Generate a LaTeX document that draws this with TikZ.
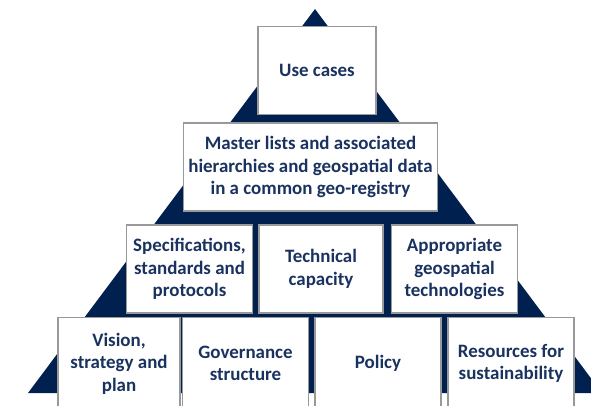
\documentclass[tikz,border=0pt]{standalone}
\usepackage{fontspec}
\setmainfont{Carlito}
\definecolor{pyrnavy}{RGB}{0,32,80}
\definecolor{txtnavy}{RGB}{25,50,95}
\tikzset{
  block/.style={draw=gray!80,line width=0.8pt,fill=white,align=center,
    inner sep=0pt,minimum height=66pt,text=txtnavy,
    font=\fontsize{14.2}{16.8}\selectfont\bfseries},
}
\begin{document}
\begin{tikzpicture}[x=0.75pt,y=-0.75pt]
\clip (0,0) rectangle (591,405);
\fill[white] (0,0) rectangle (591,405);
% pyramid behind the blocks
\fill[pyrnavy] (315,9) -- (602,393) -- (28,393) -- cycle;
% top
\node[block,minimum width=88.5pt] (usecases) at (317,70.5) {Use cases};
\node[block,minimum width=191pt] (master) at (310.5,167)
  {Master lists and associated\\hierarchies and geospatial data\\in a common geo-registry};
% third row
\node[block,minimum width=94pt] (specs) at (189.5,269) {Specifications,\\standards and\\protocols};
\node[block,minimum width=93pt] (techcap) at (321,269) {Technical\\capacity};
\node[block,minimum width=94pt] (geotech) at (454.5,269) {Appropriate\\geospatial\\technologies};
% base row, runs off the bottom edge
\tikzset{block/.append style={minimum height=69pt}}
\node[block,minimum width=91.5pt] (vision) at (119,363.5) {Vision,\\strategy and\\plan};
\node[block,minimum width=94pt] (governance) at (245.5,363.5) {Governance\\structure};
\node[block,minimum width=94.5pt] (policy) at (378,363.5) {Policy};
\node[block,minimum width=94.5pt] (resources) at (511,363.5) {Resources for\\sustainability};
\end{tikzpicture}
\end{document}
